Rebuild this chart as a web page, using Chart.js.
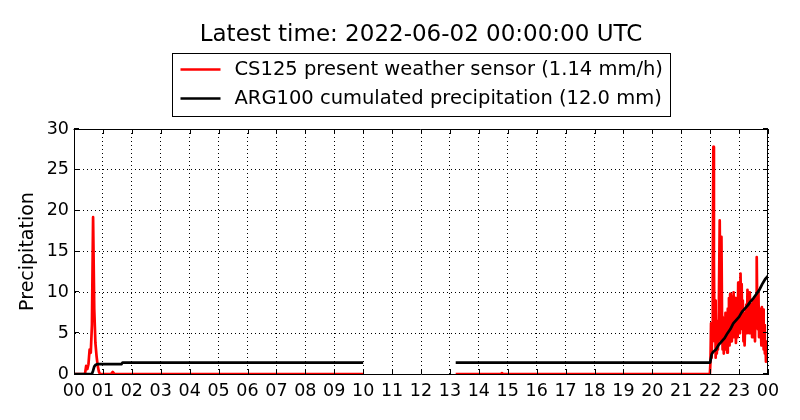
<!DOCTYPE html>
<html>
<head>
<meta charset="utf-8">
<script src="https://cdn.jsdelivr.net/npm/chart.js@4.4.1/dist/chart.umd.min.js"></script>
<style>
body { margin: 0; background: #fff; }
</style>
</head>
<body>
<canvas id="precipChart" width="800" height="420"></canvas>
<script>
const titleText = 'Latest time: 2022-06-02 00:00:00 UTC';
const sensorLabel = 'CS125 present weather sensor (1.14 mm/h)';
const gaugeLabel = 'ARG100 cumulated precipitation (12.0 mm)';

const hourTicks = [0, 1, 2, 3, 4, 5, 6, 7, 8, 9, 10, 11, 12, 13, 14, 15, 16, 17, 18, 19, 20, 21, 22, 23, 24];
const hourLabels = ['00', '01', '02', '03', '04', '05', '06', '07', '08', '09', '10', '11',
    '12', '13', '14', '15', '16', '17', '18', '19', '20', '21', '22', '23', '00'];
const precipTicks = [0, 5, 10, 15, 20, 25, 30];

// CS125 rain rate (hours since 00 UTC, mm/h)
const sensorHours = [0, 0.38, 0.42, 0.46, 0.5, 0.54, 0.58, 0.62, 0.66, 0.7, 0.74, 0.78, 0.82, 0.86, 0.9,
    1.28, 1.34, 1.4, 10.0, 11.5, 13.2, 14.76, 14.8, 14.84, 21.99,
    22.01, 22.03, 22.05, 22.07, 22.09, 22.11, 22.13, 22.15, 22.17, 22.19, 22.21, 22.23, 22.25, 22.27,
    22.30, 22.33, 22.35, 22.37, 22.39, 22.41, 22.43, 22.45, 22.47, 22.49, 22.51, 22.53, 22.55, 22.57,
    22.59, 22.61, 22.63, 22.65, 22.67, 22.69, 22.71, 22.73, 22.75, 22.77, 22.79, 22.81, 22.83, 22.85,
    22.87, 22.89, 22.91, 22.93, 22.95, 22.97, 22.99, 23.01, 23.03, 23.05, 23.07, 23.09, 23.11, 23.13,
    23.15, 23.17, 23.19, 23.21, 23.23, 23.25, 23.27, 23.29, 23.31, 23.33, 23.35, 23.37, 23.39, 23.41,
    23.43, 23.45, 23.47, 23.49, 23.51, 23.53, 23.55, 23.57, 23.59, 23.61, 23.63, 23.65, 23.67, 23.69,
    23.71, 23.73, 23.75, 23.77, 23.79, 23.81, 23.83, 23.85, 23.87, 23.89, 23.91, 23.93, 23.95, 23.97, 24.00];
const sensorRain = [0, 0, 1.0, 0.6, 1.2, 3.0, 2.6, 6, 19.2, 8, 3.8, 2.2, 1.0, 0.3, 0,
    0, 0.25, 0, 0, null, 0, 0, 0.1, 0, 0,
    1.5, 6.2, 2.0, 5.0, 12, 27.8, 14, 4, 9, 2, 6.5, 2.5, 5, 3,
    8, 18.8, 9, 4, 16.8, 7, 3, 6.8, 2.5, 5.5, 3, 7.5, 4, 6.5,
    2.6, 8, 4.5, 9.3, 3.5, 9.8, 5, 7.5, 4, 9.5, 5.5, 10, 4.5, 7,
    9.3, 3.8, 6, 8, 4.5, 11.2, 6, 10.5, 5, 12.3, 7, 11, 5.5, 9,
    4, 7.5, 3.5, 6, 5.4, 8.5, 5, 10.3, 6.5, 9.5, 5, 10, 7, 5,
    8.5, 4.5, 7, 9, 5.5, 8, 4, 9.5, 6, 14.3, 7, 5.5, 10, 4.5,
    8, 5, 6.5, 3.5, 8.2, 4, 7.9, 3, 6, 2.5, 4, 1.5, 3.2, 2.6, 2.4];

// ARG100 cumulated precipitation (mm)
const gaugeHours = [0, 0.62, 0.66, 0.7, 0.74, 0.8, 1.64, 1.68, 10.0, 11.5, 13.2, 22.0, 22.05, 22.1,
    22.2, 22.3, 22.4, 22.5, 22.6, 22.7, 22.8, 22.9, 23.0, 23.1, 23.2, 23.3, 23.4, 23.5, 23.6, 23.7,
    23.8, 23.9, 24.0];
const gaugeTotal = [0, 0, 0.4, 0.9, 1.1, 1.2, 1.2, 1.4, 1.4, null, 1.4, 1.4, 2.4, 2.7,
    3.0, 3.6, 4.0, 4.4, 5.0, 5.5, 6.2, 6.6, 7.0, 7.6, 8.0, 8.4, 8.9, 9.3, 9.8, 10.3,
    11.0, 11.6, 12.0];

const fontFamily = '"DejaVu Sans", sans-serif';

function toPoints(hours, values) {
    return hours.map((h, i) => ({ x: h, y: values[i] }));
}

// title, legend box, inward ticks and top/right frame like matplotlib
const decorations = {
    id: 'decorations',
    afterDraw(chart) {
        const ctx = chart.ctx;
        const area = chart.chartArea;
        const xScale = chart.scales.x;
        const yScale = chart.scales.y;
        const centerX = (area.left + area.right) / 2;
        ctx.save();

        ctx.strokeStyle = '#000';
        ctx.lineWidth = 1;
        ctx.beginPath();
        const top = Math.round(area.top) + 0.5;
        const right = Math.round(area.right) - 0.5;
        const left = Math.round(area.left) - 0.5;
        const bottom = Math.round(area.bottom) - 0.5;
        ctx.moveTo(left, top);
        ctx.lineTo(right, top);
        ctx.lineTo(right, bottom);
        ctx.stroke();

        ctx.beginPath();
        hourTicks.forEach(v => {
            const px = Math.round(xScale.getPixelForValue(v)) + 0.5;
            ctx.moveTo(px, area.bottom);
            ctx.lineTo(px, area.bottom - 5);
            ctx.moveTo(px, area.top);
            ctx.lineTo(px, area.top + 5);
        });
        precipTicks.forEach(v => {
            const py = Math.round(yScale.getPixelForValue(v)) - 0.5;
            ctx.moveTo(area.left, py);
            ctx.lineTo(area.left + 5, py);
            ctx.moveTo(area.right, py);
            ctx.lineTo(area.right - 5, py);
        });
        ctx.stroke();

        ctx.fillStyle = '#000';
        ctx.font = '23px ' + fontFamily;
        ctx.textAlign = 'center';
        ctx.textBaseline = 'middle';
        ctx.fillText(titleText, centerX, 35);

        ctx.font = '19.5px ' + fontFamily;
        const textW = Math.max(ctx.measureText(sensorLabel).width, ctx.measureText(gaugeLabel).width);
        const boxW = Math.round(62 + textW + 8);
        const boxX = Math.round(centerX - boxW / 2) + 0.5;
        const boxY = 53.5;
        ctx.strokeRect(boxX, boxY, boxW, 63);

        const rows = [
            { label: sensorLabel, color: '#ff0000', y: boxY + 16 },
            { label: gaugeLabel, color: '#000000', y: boxY + 45 }
        ];
        ctx.textAlign = 'left';
        rows.forEach(r => {
            ctx.strokeStyle = r.color;
            ctx.lineWidth = 2.7;
            ctx.beginPath();
            ctx.moveTo(boxX + 8, r.y);
            ctx.lineTo(boxX + 48, r.y);
            ctx.stroke();
            ctx.fillText(r.label, boxX + 62, r.y);
        });
        ctx.restore();
    }
};

new Chart(document.getElementById('precipChart'), {
    type: 'line',
    data: {
        datasets: [{
            label: sensorLabel,
            data: toPoints(sensorHours, sensorRain),
            borderColor: '#ff0000',
            borderWidth: 2.7,
            pointRadius: 0,
            spanGaps: false,
            borderJoinStyle: 'round',
            order: 1
        }, {
            label: gaugeLabel,
            data: toPoints(gaugeHours, gaugeTotal),
            borderColor: '#000000',
            borderWidth: 2.7,
            pointRadius: 0,
            spanGaps: false,
            borderJoinStyle: 'round',
            order: 0
        }]
    },
    options: {
        responsive: false,
        animation: false,
        layout: { padding: { top: 129, right: 32, left: 0, bottom: 0 } },
        plugins: {
            legend: { display: false },
            tooltip: { enabled: false },
            title: { display: false }
        },
        scales: {
            x: {
                type: 'linear',
                min: 0,
                max: 24,
                afterBuildTicks: s => { s.ticks = hourTicks.map(v => ({ value: v })); },
                afterFit: s => { s.height = 46; },
                ticks: {
                    autoSkip: false,
                    maxRotation: 0,
                    padding: 7,
                    color: '#000',
                    font: { family: fontFamily, size: 17.5 },
                    callback: (v, i) => hourLabels[i]
                },
                grid: { color: '#000', lineWidth: 1, drawTicks: false },
                border: { display: true, color: '#000', width: 1, dash: [1, 3] }
            },
            y: {
                min: 0,
                max: 30,
                afterBuildTicks: s => { s.ticks = precipTicks.map(v => ({ value: v })); },
                afterFit: s => { s.width = 74; },
                ticks: {
                    padding: 5,
                    color: '#000',
                    font: { family: fontFamily, size: 17.5 }
                },
                grid: { color: '#000', lineWidth: 1, drawTicks: false },
                border: { display: true, color: '#000', width: 1, dash: [1, 3] },
                title: {
                    display: true,
                    text: 'Precipitation',
                    color: '#000',
                    padding: { top: 17, bottom: 0 },
                    font: { family: fontFamily, size: 19 }
                }
            }
        }
    },
    plugins: [decorations]
});
</script>
</body>
</html>
